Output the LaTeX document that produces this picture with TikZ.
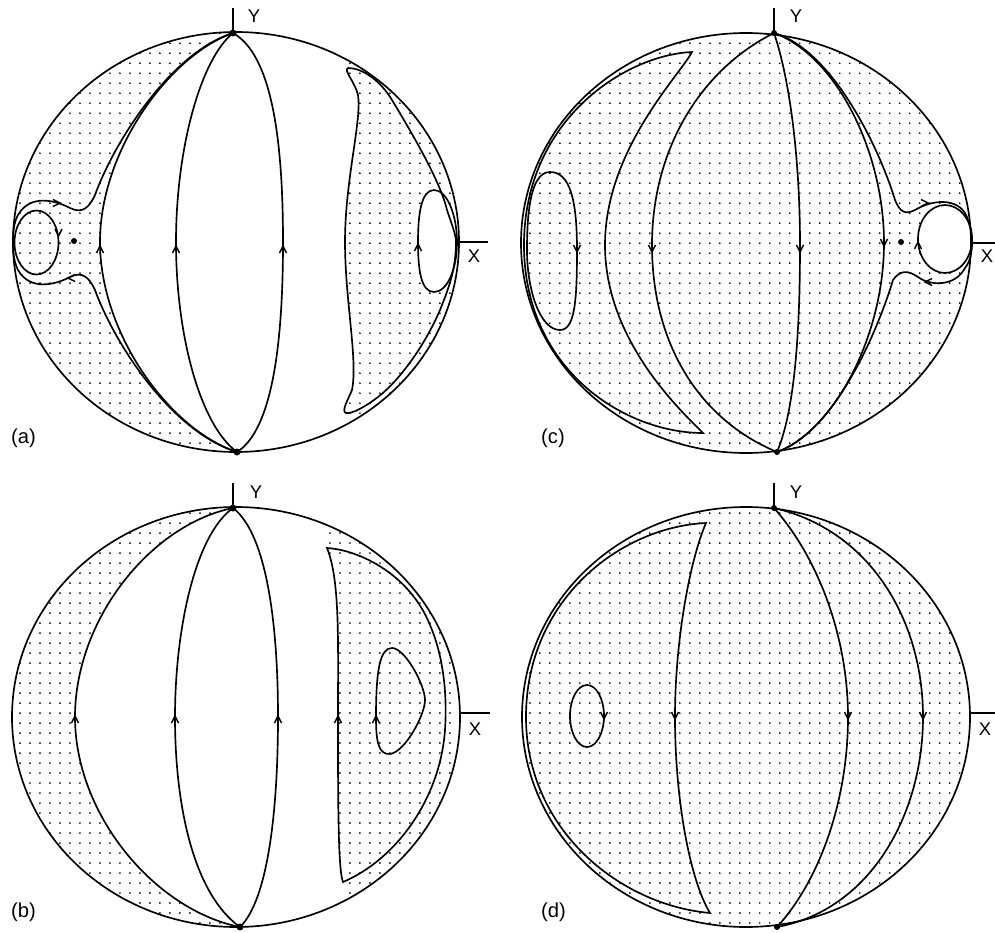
\documentclass[tikz,border=0pt]{standalone}
\usepackage{fontspec}
\setmainfont{Liberation Sans}
\usetikzlibrary{patterns.meta}
\begin{document}
\begin{tikzpicture}[x=0.02cm,y=-0.02cm,
  rim/.style={line width=0.95pt},
  orbit/.style={line width=0.95pt},
  dotsfill/.style={pattern={Dots[distance=5.69pt,radius=0.55pt]}},
  axline/.style={line width=0.9pt},
  lab/.style={font=\fontsize{10.5pt}{12pt}\selectfont},
  tag/.style={font=\fontsize{11.5pt}{13pt}\selectfont, anchor=west},
  aup/.pic={\draw[line width=0.8pt] (-3.5,7) -- (0,0) -- (3.5,7);},
  adown/.pic={\draw[line width=0.8pt] (-3.5,-7) -- (0,0) -- (3.5,-7);},
  aleft/.pic={\draw[line width=0.8pt] (7,-3.5) -- (0,0) -- (7,3.5);},
  aright/.pic={\draw[line width=0.8pt] (-7,-3.5) -- (0,0) -- (-7,3.5);}
]
\useasboundingbox (0,0) rectangle (995,933);

% ================= (a) =================
\fill[dotsfill] (236,242) ellipse [x radius=223, y radius=210];
\begin{scope}
\clip (236,242) ellipse [x radius=223, y radius=210];
\fill[white] (233,0) -- (233,33) .. controls (170,55) and (100,150) .. (100,242)
  .. controls (100,334) and (170,430) .. (237,452) -- (237,480) -- (346,480) -- (346,413)
  .. controls (341,411) and (348,400) .. (352,390) .. controls (358,360) and (345,300) .. (345,242)
  .. controls (345,180) and (362,120) .. (358,95) .. controls (355,82) and (343,70) .. (348,68) -- (348,0) -- cycle;
\end{scope}
\fill[white] (457,242) .. controls (457,215) and (447,190) .. (434,190) .. controls (421,190) and (418,215) .. (418,242)
  .. controls (418,270) and (421,292) .. (434,292) .. controls (447,292) and (457,270) .. (457,242) -- cycle;
\draw[rim] (236,242) ellipse [x radius=223, y radius=210];
\draw[orbit] (233,33) .. controls (170,55) and (100,150) .. (100,242) .. controls (100,334) and (170,430) .. (237,452);
\draw[orbit] (233,33) .. controls (172,52) and (115,140) .. (95,195) .. controls (89,208) and (82,214) .. (70,208)
  .. controls (55,200) and (30,194) .. (18,215) .. controls (14,222) and (13,232) .. (13,240);
\draw[orbit] (13,245) .. controls (13,252) and (14,262) .. (18,270) .. controls (30,291) and (55,285) .. (70,277)
  .. controls (82,271) and (89,277) .. (95,290) .. controls (115,345) and (172,432) .. (237,452);
\draw[orbit] (36.5,242.5) ellipse [x radius=22, y radius=32];
\draw[orbit] (233,33) .. controls (200,60) and (176,150) .. (176,242) .. controls (176,335) and (200,425) .. (237,452);
\draw[orbit] (233,33) .. controls (272,55) and (283,140) .. (283,242) .. controls (283,345) and (272,430) .. (237,452);
\draw[orbit] (348,68) .. controls (362,68) and (380,80) .. (392,100) .. controls (410,130) and (440,180) .. (447,210)
  .. controls (452,225) and (456,235) .. (456,242) .. controls (456,270) and (448,290) .. (440,310)
  .. controls (425,345) and (400,380) .. (378,397) .. controls (365,407) and (352,414) .. (346,413)
  .. controls (341,411) and (348,400) .. (352,390) .. controls (358,360) and (345,300) .. (345,242)
  .. controls (345,180) and (362,120) .. (358,95) .. controls (355,82) and (343,70) .. (348,68) -- cycle;
\draw[orbit] (457,242) .. controls (457,215) and (447,190) .. (434,190) .. controls (421,190) and (418,215) .. (418,242)
  .. controls (418,270) and (421,292) .. (434,292) .. controls (447,292) and (457,270) .. (457,242) -- cycle;
\pic at (100,246) {aup};
\pic at (176,246) {aup};
\pic at (283,246) {aup};
\pic at (418,244) {aup};
\pic at (60,203) {aright};
\pic at (68,278) {aleft};
\pic at (58.5,236) {adown};
\fill (233,33) circle [radius=3.5];
\fill (237,452) circle [radius=3.5];
\fill (74,241) circle [radius=3];
\draw[axline] (233,8) -- (233,33);
\draw[axline] (459,242) -- (488,242);
\node[lab] (ya) at (254,16) {Y};
\node[lab] (xa) at (474,256) {X};
\node[tag] (ta) at (5,438) {(a)};

% ================= (b) =================
\fill[dotsfill] (236,717) ellipse [x radius=224, y radius=210];
\begin{scope}
\clip (236,717) ellipse [x radius=224, y radius=210];
\fill[white] (233,470) -- (233,508) .. controls (150,525) and (75,620) .. (75,717)
  .. controls (75,815) and (155,910) .. (240,927) -- (240,960) -- (343,960) -- (343,882)
  .. controls (338,870) and (338,800) .. (338,717) .. controls (338,640) and (340,580) .. (327,548) -- (327,470) -- cycle;
\end{scope}
\draw[rim] (236,717) ellipse [x radius=224, y radius=210];
\draw[orbit] (233,508) .. controls (150,525) and (75,620) .. (75,717) .. controls (75,815) and (155,910) .. (240,927);
\draw[orbit] (233,508) .. controls (195,535) and (175,630) .. (175,717) .. controls (175,810) and (195,895) .. (240,927);
\draw[orbit] (233,508) .. controls (268,535) and (278,630) .. (278,717) .. controls (278,810) and (268,900) .. (240,927);
\draw[orbit] (327,548) .. controls (360,550) and (410,575) .. (430,625) .. controls (445,660) and (447,700) .. (445,730)
  .. controls (440,800) and (395,860) .. (343,882) .. controls (338,870) and (338,800) .. (338,717)
  .. controls (338,640) and (340,580) .. (327,548) -- cycle;
\draw[orbit] (376,717) .. controls (376,670) and (380,648) .. (392,648) .. controls (405,648) and (425,685) .. (425,700)
  .. controls (425,715) and (405,752) .. (390,754) .. controls (378,755) and (376,740) .. (376,717) -- cycle;
\pic at (75,716) {aup};
\pic at (175,716) {aup};
\pic at (278,716) {aup};
\pic at (338,716) {aup};
\pic at (376,716) {aup};
\fill (233,508) circle [radius=3.5];
\fill (240,927) circle [radius=3.5];
\draw[axline] (233,483) -- (233,508);
\draw[axline] (460,713) -- (490,713);
\node[lab] (yb) at (256,492) {Y};
\node[lab] (xb) at (475,729) {X};
\node[tag] (tb) at (5,912) {(b)};

% ================= (c) =================
\fill[dotsfill] (746,243) ellipse [x radius=225, y radius=210];
\fill[white] (945,239) ellipse [x radius=27, y radius=34];
\draw[rim] (746,243) ellipse [x radius=225, y radius=210];
\draw[orbit] (577,250) .. controls (577,200) and (570,172) .. (550,172) .. controls (530,172) and (527,215) .. (527,250)
  .. controls (527,290) and (540,330) .. (560,330) .. controls (575,330) and (577,300) .. (577,250) -- cycle;
\draw[orbit] (692,52) .. controls (680,75) and (605,150) .. (605,245) .. controls (605,340) and (680,410) .. (703,433)
  .. controls (625,433) and (524,370) .. (524,245) .. controls (524,120) and (625,55) .. (692,52) -- cycle;
\draw[orbit] (774,33) .. controls (700,70) and (652,150) .. (652,245) .. controls (652,345) and (700,420) .. (777,452);
\draw[orbit] (774,33) .. controls (790,80) and (800,160) .. (800,245) .. controls (800,330) and (795,410) .. (777,452);
\draw[orbit] (774,33) .. controls (835,55) and (884,150) .. (884,243) .. controls (884,335) and (835,430) .. (777,452);
\draw[orbit] (774,33) .. controls (833,50) and (880,150) .. (895,200) .. controls (900,212) and (905,215) .. (915,210)
  .. controls (935,198) and (962,198) .. (968,220) .. controls (971,228) and (972,236) .. (972,242);
\draw[orbit] (972,244) .. controls (972,252) and (970,262) .. (965,268) .. controls (955,287) and (930,286) .. (918,277)
  .. controls (908,270) and (900,270) .. (893,280) .. controls (878,330) and (835,432) .. (777,452);
\draw[orbit] (945,239) ellipse [x radius=27, y radius=34];
\pic at (577,252) {adown};
\pic at (652,252) {adown};
\pic at (800,252) {adown};
\pic at (884,246) {adown};
\pic at (918,242) {aup};
\pic at (928,203) {aright};
\pic at (925,282) {aleft};
\fill (774,33) circle [radius=3];
\fill (777,452) circle [radius=3];
\fill (901,242) circle [radius=3];
\draw[axline] (774,8) -- (774,33);
\draw[axline] (972,243) -- (995,243);
\node[lab] (yc) at (796,16) {Y};
\node[lab] (xc) at (987,256) {X};
\node[tag] (tc) at (535,438) {(c)};

% ================= (d) =================
\fill[dotsfill] (746,717) ellipse [x radius=224, y radius=210];
\draw[rim] (746,717) ellipse [x radius=224, y radius=210];
\draw[orbit] (706,523) .. controls (690,560) and (675,640) .. (675,717) .. controls (675,800) and (690,880) .. (710,913)
  .. controls (620,905) and (526,830) .. (526,717) .. controls (526,600) and (620,527) .. (706,523) -- cycle;
\draw[orbit] (587,716) ellipse [x radius=17, y radius=31];
\draw[orbit] (774,508) .. controls (820,560) and (848,640) .. (848,717) .. controls (848,800) and (820,880) .. (777,927);
\draw[orbit] (774,508) .. controls (870,530) and (923,620) .. (923,717) .. controls (923,815) and (870,910) .. (777,927);
\pic at (675,719) {adown};
\pic at (604,719) {adown};
\pic at (848,719) {adown};
\pic at (923,719) {adown};
\fill (774,508) circle [radius=3];
\fill (777,927) circle [radius=3];
\draw[axline] (774,483) -- (774,508);
\draw[axline] (970,713) -- (995,713);
\node[lab] (yd) at (796,492) {Y};
\node[lab] (xd) at (985,729) {X};
\node[tag] (td) at (535,912) {(d)};
\end{tikzpicture}
\end{document}
